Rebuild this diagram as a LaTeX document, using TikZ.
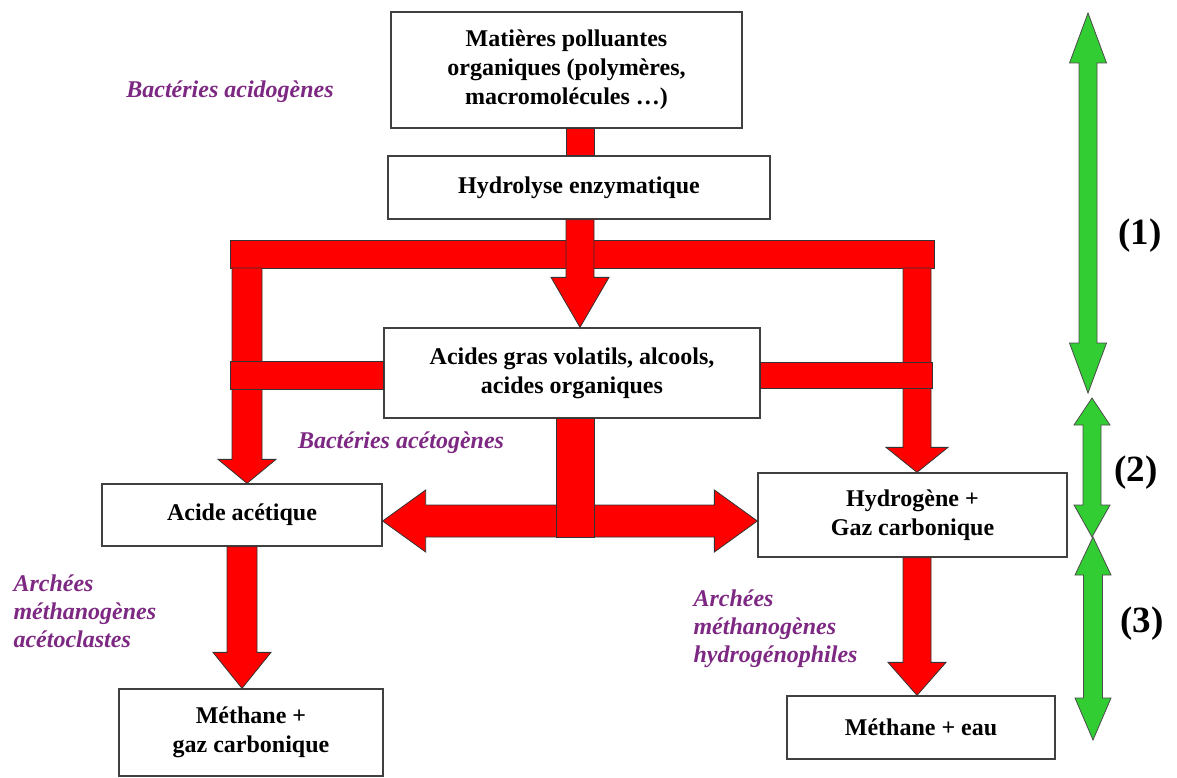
\documentclass[tikz,border=0pt]{standalone}
\usepackage{fontspec}
\setmainfont{Liberation Serif}
\usetikzlibrary{calc}

% vertical bar: x from #1, from y of #2 to y of #3, half width #4
\newcommand\flowvbar[4]{\filldraw[redbody] let \p1=(#1), \p2=(#2), \p3=(#3) in
  (\x1-#4pt,\y2) rectangle (\x1+#4pt,\y3);}
% horizontal bar: from #1 to x of #2 (y of #1), half height #3
\newcommand\flowhbar[3]{\filldraw[redbody] let \p1=(#1), \p2=(#2) in
  (\x1,\y1-#3pt) rectangle (\x2,\y1+#3pt);}
% fat arrow down: x from #1, top y of #2, tip y of #3, half shaft #4, half head #5, head length #6
\newcommand\flowdown[6]{\filldraw[redbody] let \p1=(#1), \p2=(#2), \p3=(#3) in
  (\x1-#4pt,\y2) -- (\x1+#4pt,\y2) -- (\x1+#4pt,\y3+#6pt) -- (\x1+#5pt,\y3+#6pt)
  -- (\x1,\y3) -- (\x1-#5pt,\y3+#6pt) -- (\x1-#4pt,\y3+#6pt) -- cycle;}
% fat double arrow, horizontal: tips at x of #1 and #2, y of #3
\newcommand\flowboth[6]{\filldraw[redbody] let \p1=(#1), \p2=(#2), \p3=(#3) in
  (\x1,\y3) -- (\x1+#6pt,\y3+#5pt) -- (\x1+#6pt,\y3+#4pt) -- (\x2-#6pt,\y3+#4pt)
  -- (\x2-#6pt,\y3+#5pt) -- (\x2,\y3) -- (\x2-#6pt,\y3-#5pt) -- (\x2-#6pt,\y3-#4pt)
  -- (\x1+#6pt,\y3-#4pt) -- (\x1+#6pt,\y3-#5pt) -- cycle;}
% green double arrow, vertical: tips #1 (top) and #2 (bottom), half shaft #3, half head #4, head lengths #5 #6
\newcommand\phasearrow[6]{\filldraw[greenbody] let \p1=(#1), \p2=(#2) in
  (\x1,\y1) -- (\x1+#4pt,\y1-#5pt) -- (\x1+#3pt,\y1-#5pt) -- (\x1+#3pt,\y2+#6pt)
  -- (\x1+#4pt,\y2+#6pt) -- (\x1,\y2) -- (\x1-#4pt,\y2+#6pt) -- (\x1-#3pt,\y2+#6pt)
  -- (\x1-#3pt,\y1-#5pt) -- (\x1-#4pt,\y1-#5pt) -- cycle;}

\definecolor{orgpurple}{RGB}{125,40,130}
\definecolor{phasegreen}{RGB}{50,205,50}

\begin{document}
\begin{tikzpicture}[x=1pt, y=-1pt,
    stepbox/.style={draw=black!75, fill=white, line width=1.3pt, align=center, inner sep=2pt,
      font=\bfseries\fontsize{24}{29}\selectfont},
    orglabel/.style={orgpurple, align=left, font=\bfseries\itshape\fontsize{24}{28}\selectfont},
    phaselabel/.style={font=\bfseries\fontsize{37}{40}\selectfont},
    redbody/.style={fill=red, draw=black!80, line width=0.8pt},
    greenbody/.style={fill=phasegreen, draw=black!70, line width=0.8pt}
]
    \useasboundingbox (0,0) rectangle (1177,778);

    % boxes
    \node[stepbox, minimum width=351pt, minimum height=116pt] (src) at (566.5,70)
        {Matières polluantes\\organiques (polymères,\\macromolécules …)};
    \node[stepbox, minimum width=382pt, minimum height=63pt] (hyd) at (579,187.5) {Hydrolyse enzymatique};
    \node[stepbox, minimum width=376pt, minimum height=90pt] (agv) at (572,373)
        {Acides gras volatils, alcools,\\acides organiques};
    \node[stepbox, minimum width=280pt, minimum height=62pt] (ace) at (242,515) {Acide acétique};
    \node[stepbox, minimum width=309pt, minimum height=84pt] (hyg) at (912.5,515)
        {Hydrogène +\\Gaz carbonique};
    \node[stepbox, minimum width=264pt, minimum height=87pt] (mco) at (251,732.5)
        {Méthane +\\gaz carbonique};
    \node[stepbox, minimum width=268pt, minimum height=63pt] (meau) at (921,727.5) {Méthane + eau};

    % junction points
    \coordinate (cm) at (580,0);
    \coordinate (tl) at (230,254);
    \coordinate (tr) at (934,254);
    \coordinate (cl) at (247,268);
    \coordinate (cr) at (917,268);
    \coordinate (sl) at (230,375);
    \coordinate (sr) at (932,375);
    \coordinate (dc) at (575,521);
    \coordinate (dj) at (575,537);

    % red flows
    \flowvbar{cm}{src.south}{hyd.north}{14}
    \flowhbar{tl}{tr}{14}
    \flowdown{cm}{hyd.south}{agv.north}{14}{29}{50}
    \flowdown{cl}{cl}{ace.north}{15}{29}{24}
    \flowdown{cr}{cr}{hyg.north}{14}{31}{25}
    \flowhbar{sl}{agv.west}{14}
    \flowhbar{sr}{agv.east}{13}
    \flowboth{ace.east}{hyg.west}{dc}{16}{31}{43}
    \flowvbar{dj}{agv.south}{dj}{19}
    \flowdown{ace.south}{ace.south}{mco.north}{15}{29}{36}
    \flowdown{cr}{hyg.south}{meau.north}{14}{29}{33}

    % phases
    \coordinate (g1a) at (1088,13);
    \coordinate (g1b) at (1088,393);
    \coordinate (g2a) at (1092,398);
    \coordinate (g2b) at (1092,537);
    \coordinate (g3a) at (1093,537);
    \coordinate (g3b) at (1093,740);
    \phasearrow{g1a}{g1b}{9}{18.5}{50}{50}
    \phasearrow{g2a}{g2b}{9}{18}{27}{32}
    \phasearrow{g3a}{g3b}{9.5}{18}{38}{42}
    \node[phaselabel] (p1) at (1140,236) {(1)};
    \node[phaselabel] (p2) at (1136,473) {(2)};
    \node[phaselabel] (p3) at (1142,624) {(3)};

    % organisms
    \node[orglabel] (bacid) at (230,92) {Bactéries acidogènes};
    \node[orglabel] (bacet) at (401,443) {Bactéries acétogènes};
    \node[orglabel, anchor=west] (aceto) at (10,611) {Archées\\méthanogènes\\acétoclastes};
    \node[orglabel, anchor=west] (hydro) at (690,629) {Archées\\méthanogènes\\hydrogénophiles};
\end{tikzpicture}
\end{document}
